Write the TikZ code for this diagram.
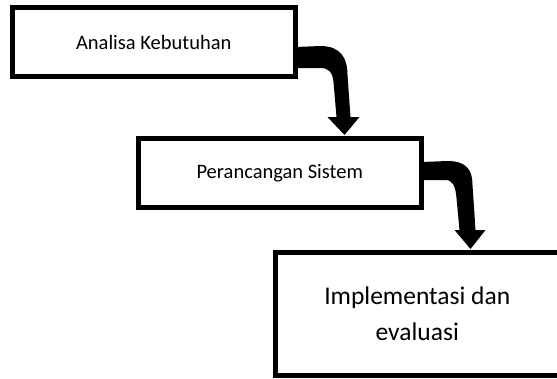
\documentclass[tikz,border=0pt]{standalone}
\usepackage{fontspec}
\setmainfont{Carlito}
\tikzset{
  stagebox/.style={draw=black, line width=5pt, fill=white, inner sep=0pt, align=center},
  bentarrow/.style={fill=black, draw=none}
}
\begin{document}
\begin{tikzpicture}[x=1pt,y=-1pt]
\useasboundingbox (0,0) rectangle (557,378);
\clip (0,0) rectangle (557,378);
\fill[white] (0,0) rectangle (557,378);
\node[stagebox, minimum width=282.5pt, minimum height=69pt, font=\fontsize{20.5}{24}\selectfont] (b1) at (153.75,42) {Analisa Kebutuhan};
\node[stagebox, minimum width=283.5pt, minimum height=69.5pt, font=\fontsize{20.5}{24}\selectfont] (b2) at (279.75,172.75) {Perancangan Sistem};
\node[stagebox, minimum width=283.5pt, minimum height=123pt, font=\fontsize{25.5}{36}\selectfont] (b3) at (417.25,314) {Implementasi dan\\evaluasi};
\begin{scope}[shift={(b1.east)}]
\fill[bentarrow] (-2,5) -- (23,4) .. controls (43,4) and (50,16) .. (50,33) -- (53,75) -- (62,75) -- (47,93) -- (30,75) -- (39,75) -- (36,40) .. controls (35,30) and (31,26) .. (23,26) -- (-2,26) -- cycle;
\end{scope}
\begin{scope}[shift={(b2.east)}]
\fill[bentarrow] (-2,-10.75) -- (23.5,-11.75) .. controls (42.5,-11.75) and (48.5,-2.75) .. (48.5,12.25) -- (51.5,57.25) -- (61.5,57.25) -- (46.5,76.25) -- (30.5,57.25) -- (35.5,57.25) -- (32.5,25.25) .. controls (31.5,13.25) and (28.5,7.25) .. (21.5,7.25) -- (-2,7.25) -- cycle;
\end{scope}
\end{tikzpicture}
\end{document}
